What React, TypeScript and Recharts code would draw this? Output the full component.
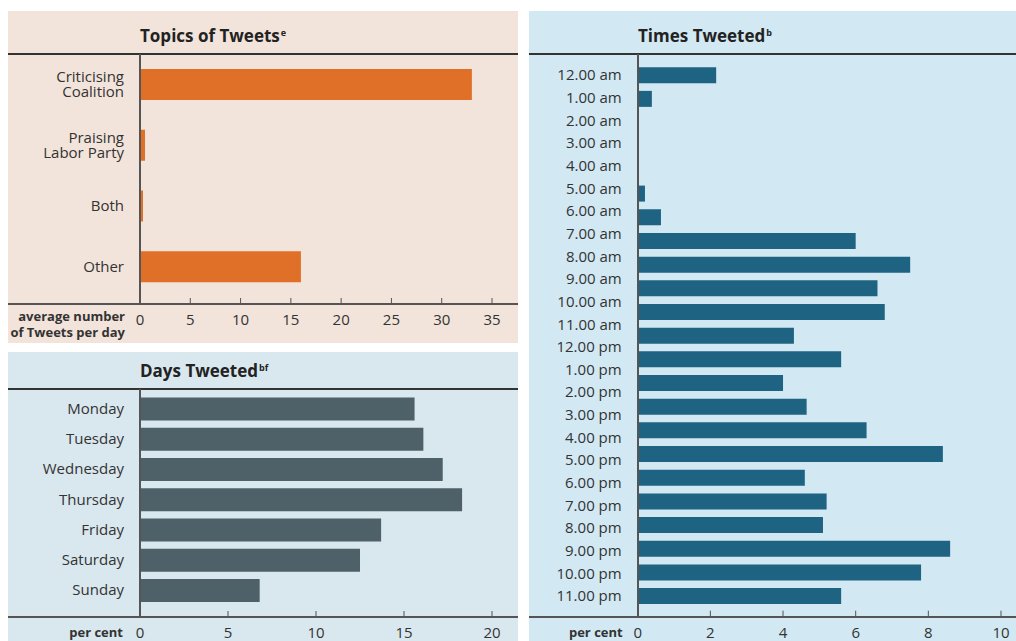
import { BarChart, Bar, XAxis, YAxis } from "recharts";

const topicLabels = ["Criticising\nCoalition", "Praising\nLabor Party", "Both", "Other"];
const topicValues = [33.0, 0.5, 0.3, 16.0];
const topicTicks = [0, 5, 10, 15, 20, 25, 30, 35];

const dayLabels = ["Monday", "Tuesday", "Wednesday", "Thursday", "Friday", "Saturday", "Sunday"];
const dayValues = [15.6, 16.1, 17.2, 18.3, 13.7, 12.5, 6.8];
const dayTicks = [0, 5, 10, 15, 20];

const hourLabels = [
  "12.00 am", "1.00 am", "2.00 am", "3.00 am", "4.00 am", "5.00 am",
  "6.00 am", "7.00 am", "8.00 am", "9.00 am", "10.00 am", "11.00 am",
  "12.00 pm", "1.00 pm", "2.00 pm", "3.00 pm", "4.00 pm", "5.00 pm",
  "6.00 pm", "7.00 pm", "8.00 pm", "9.00 pm", "10.00 pm", "11.00 pm",
];
// the source draws 23 bar slots against the 24 hour labels
const hourValues = [
  2.16, 0.39, 0, 0, 0, 0.2, 0.64, 6.0, 7.5, 6.6, 6.8, 4.3,
  5.6, 4.0, 4.65, 6.3, 8.4, 4.6, 5.2, 5.1, 8.6, 7.8, 5.6,
];
const hourTicks = [0, 2, 4, 6, 8, 10];

const FONT = "'Open Sans', sans-serif";
const TEXT = "#333";
const LINE = "#555";

const topicData = topicLabels.map((label, i) => ({ label, value: topicValues[i] }));
const dayData = dayLabels.map((label, i) => ({ label, value: dayValues[i] }));
const hourData = hourValues.map((value, i) => ({ slot: i, value }));
const hourLabelData = hourLabels.map((label) => ({ label, value: 0 }));

function XTick({ x, payload, axisY }: any) {
  return (
    <g>
      <line x1={x} x2={x} y1={axisY - 6} y2={axisY} stroke={LINE} strokeWidth={1} />
      <text x={x} y={axisY + 15} textAnchor="middle" dominantBaseline="central" fontSize={15} fill={TEXT}>
        {payload.value}
      </text>
    </g>
  );
}

function YTick({ x, y, payload }: any) {
  const lines = String(payload.value).split("\n");
  const lh = 15.5;
  const y0 = y - ((lines.length - 1) * lh) / 2;
  return (
    <g>
      {lines.map((l, i) => (
        <text key={i} x={x} y={y0 + i * lh} dy={5.3} textAnchor="end" fontSize={15} fill={TEXT}>
          {l}
        </text>
      ))}
    </g>
  );
}

function Title({ left, top, text, sup }: { left: number; top: number; text: string; sup: string }) {
  return (
    <div
      style={{
        position: "absolute",
        left,
        top,
        fontSize: 17,
        lineHeight: "20px",
        fontWeight: 700,
        color: "#222",
        whiteSpace: "nowrap",
      }}
    >
      {text}
      <span style={{ fontSize: 9, position: "relative", top: -6, marginLeft: 1 }}>{sup}</span>
    </div>
  );
}

const box = (left: number, top: number, width: number, height: number, background: string) => (
  <div style={{ position: "absolute", left, top, width, height, background }} />
);

export default function App() {
  return (
    <div style={{ position: "relative", width: 1016, height: 641, fontFamily: FONT, overflow: "hidden" }}>
      <style>{"body{margin:0}"}</style>

      {/* Topics of Tweets */}
      {box(8, 11, 510, 332, "#f2e4da")}
      <Title left={140} top={26} text="Topics of Tweets" sup="e" />
      <div style={{ position: "absolute", left: 8, top: 54 }}>
        <BarChart
          width={510}
          height={289}
          layout="vertical"
          data={topicData}
          margin={{ top: 0, right: 26, left: 0, bottom: 0 }}
          barSize={31}
        >
          <XAxis
            type="number"
            domain={[0, 35]}
            ticks={topicTicks}
            height={46}
            axisLine={false}
            tickLine={false}
            tick={(p: any) => <XTick {...p} axisY={250} />}
          />
          <YAxis
            type="category"
            dataKey="label"
            width={132}
            axisLine={false}
            tickLine={false}
            tickMargin={10}
            tick={(p: any) => <YTick {...p} />}
          />
          <Bar dataKey="value" fill="#e07028" isAnimationActive={false} />
        </BarChart>
      </div>
      {box(8, 53, 510, 1.6, "#333")}
      {box(8, 303.3, 510, 1.6, LINE)}
      {box(139, 54, 1.8, 250, LINE)}
      <div
        style={{
          position: "absolute",
          left: 0,
          top: 308,
          width: 125,
          textAlign: "right",
          fontSize: 13,
          lineHeight: "16px",
          fontWeight: 700,
          color: TEXT,
        }}
      >
        average number
        <br />
        of Tweets per day
      </div>

      {/* Days Tweeted */}
      {box(8, 352, 510, 289, "#d9e7ee")}
      <Title left={140} top={361} text="Days Tweeted" sup="bf" />
      <div style={{ position: "absolute", left: 8, top: 389 }}>
        <BarChart
          width={510}
          height={252}
          layout="vertical"
          data={dayData}
          margin={{ top: 4.4, right: 26, left: 0, bottom: 0 }}
          barSize={23}
        >
          <XAxis
            type="number"
            domain={[0, 20]}
            ticks={dayTicks}
            height={35.8}
            axisLine={false}
            tickLine={false}
            tick={(p: any) => <XTick {...p} axisY={228} />}
          />
          <YAxis
            type="category"
            dataKey="label"
            width={132}
            axisLine={false}
            tickLine={false}
            tickMargin={10}
            tick={(p: any) => <YTick {...p} />}
          />
          <Bar dataKey="value" fill="#4f6168" isAnimationActive={false} />
        </BarChart>
      </div>
      {box(8, 388.3, 510, 1.6, "#333")}
      {box(8, 616.3, 510, 1.6, LINE)}
      {box(139, 389, 1.8, 228, LINE)}
      <div
        style={{
          position: "absolute",
          left: 0,
          top: 624,
          width: 123,
          textAlign: "right",
          fontSize: 13,
          lineHeight: "16px",
          fontWeight: 700,
          color: TEXT,
        }}
      >
        per cent
      </div>

      {/* Times Tweeted */}
      {box(529, 11, 487, 630, "#d2e8f3")}
      <Title left={638} top={26} text="Times Tweeted" sup="b" />
      <div style={{ position: "absolute", left: 529, top: 54 }}>
        <BarChart
          width={487}
          height={587}
          layout="vertical"
          data={hourData}
          margin={{ top: 9.2, right: 15, left: 0, bottom: 0 }}
          barSize={16}
        >
          <XAxis
            type="number"
            domain={[0, 10]}
            ticks={hourTicks}
            height={33.2}
            axisLine={false}
            tickLine={false}
            tick={(p: any) => <XTick {...p} axisY={562.7} />}
          />
          <YAxis type="category" dataKey="slot" width={108.7} tick={false} axisLine={false} tickLine={false} />
          <Bar dataKey="value" fill="#1f6382" isAnimationActive={false} />
        </BarChart>
      </div>
      {/* hour labels: 24 evenly spaced categories over the same span */}
      <div style={{ position: "absolute", left: 529, top: 54 }}>
        <BarChart
          width={110}
          height={587}
          layout="vertical"
          data={hourLabelData}
          margin={{ top: 9.7, right: 0, left: 0, bottom: 33.7 }}
        >
          <XAxis type="number" domain={[0, 10]} hide />
          <YAxis
            type="category"
            dataKey="label"
            width={108.7}
            interval={0}
            axisLine={false}
            tickLine={false}
            tickMargin={10}
            tick={{ fontSize: 15, fill: TEXT }}
          />
          <Bar dataKey="value" fill="none" isAnimationActive={false} />
        </BarChart>
      </div>
      {box(529, 53.3, 487, 1.6, "#333")}
      {box(529, 616, 487, 1.6, LINE)}
      {box(637, 54, 1.8, 563, LINE)}
      <div
        style={{
          position: "absolute",
          left: 529,
          top: 624,
          width: 93.7,
          textAlign: "right",
          fontSize: 13,
          lineHeight: "16px",
          fontWeight: 700,
          color: TEXT,
        }}
      >
        per cent
      </div>
    </div>
  );
}
